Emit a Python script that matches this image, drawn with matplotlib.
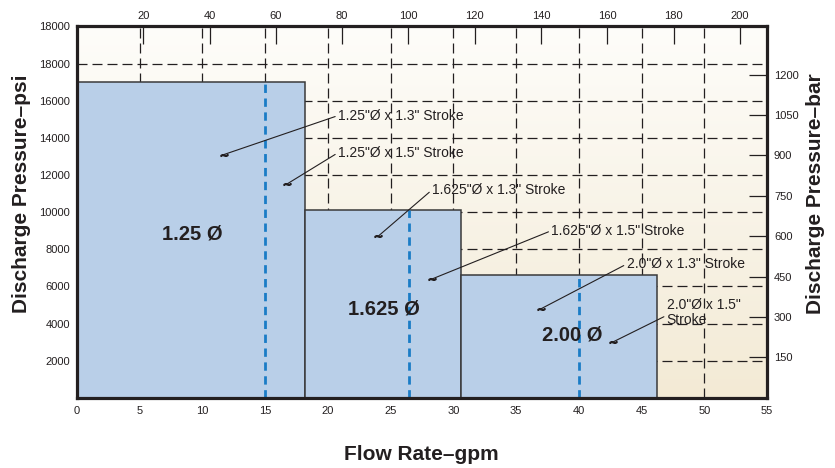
import numpy as np
import matplotlib
matplotlib.use("Agg")
import matplotlib.pyplot as plt

plt.rcParams['font.family'] = ['Liberation Sans', 'DejaVu Sans']

# ----- data -----
bore_labels = ["1.25 Ø", "1.625 Ø", "2.00 Ø"]
bar_left = [0.0, 18.2, 30.6]        # gpm
bar_right = [18.2, 30.6, 46.2]      # gpm
max_psi = [17000, 10100, 6600]
rated_gpm = [15.0, 26.5, 40.0]      # blue dashed line per bore

psi_ticks = [2000, 4000, 6000, 8000, 10000, 12000, 14000, 16000, 18000, 20000]
psi_labels = ["2000", "4000", "6000", "8000", "10000", "12000", "14000", "16000", "18000", "18000"]
gpm_ticks = [0, 5, 10, 15, 20, 25, 30, 35, 40, 45, 50, 55]
lpm_ticks = [20, 40, 60, 80, 100, 120, 140, 160, 180, 200]
bar_ticks = [150, 300, 450, 600, 750, 900, 1050, 1200]

stroke_labels = ['1.25"Ø x 1.3" Stroke', '1.25"Ø x 1.5" Stroke',
                 '1.625"Ø x 1.3" Stroke', '1.625"Ø x 1.5" Stroke',
                 '2.0"Ø x 1.3" Stroke', '2.0"Ø x 1.5"\nStroke']
stroke_points = [(11.7, 13100), (16.7, 11500), (24.0, 8700),
                 (28.3, 6400), (37.0, 4800), (42.7, 3000)]
label_points = [(20.8, 15200), (20.8, 13200), (28.3, 11200),
                (37.8, 9000), (43.8, 7200), (47.0, 4600)]

GPM_TO_LPM = 3.785
PSI_TO_BAR = 14.5038
dark = "#231f20"

fig = plt.figure(figsize=(8.35, 4.68), dpi=100)
ax = fig.add_axes([0.0922, 0.150, 0.8264, 0.7934])
ax.set_xlim(0, 55)
ax.set_ylim(0, 20000)

# background gradient (white at top to cream at bottom)
grad = np.linspace(0, 1, 256).reshape(-1, 1)
top_c = np.array([0.995, 0.992, 0.98])
bot_c = np.array([0.953, 0.918, 0.835])
img = top_c + (bot_c - top_c) * grad[:, :, None] * np.ones((1, 2, 1))
ax.imshow(img, extent=[0, 55, 0, 20000], aspect='auto', origin='upper', zorder=0)

# dashed grid
for g in gpm_ticks[1:-1]:
    ax.axvline(g, color=dark, lw=0.9, ls=(0, (8, 4)), zorder=1)
for p in psi_ticks[:-1]:
    ax.axhline(p, color=dark, lw=0.9, ls=(0, (8, 4)), zorder=1)

# bars
for l, r, h in zip(bar_left, bar_right, max_psi):
    ax.bar(l, h, width=r - l, align='edge', color="#b9cfe8", edgecolor="#3a3a3a",
           linewidth=1.1, zorder=2)

for x, h in zip(rated_gpm, max_psi):
    ax.plot([x, x], [0, h], color="#1a7cc6", lw=2, ls=(0, (3, 2)), zorder=3)

# bore labels
bore_pos = [(9.2, 8800), (24.5, 4780), (39.5, 3360)]
for (x, y), t in zip(bore_pos, bore_labels):
    ax.text(x, y, t, fontsize=14.5, fontweight='bold', color=dark,
            ha='center', va='center', zorder=5)

# stroke annotations
for t, (px, py), (tx, ty) in zip(stroke_labels, stroke_points, label_points):
    ax.annotate(t, xy=(px, py), xytext=(tx, ty), fontsize=10, color=dark,
                ha='left', va='center', linespacing=1.15,
                arrowprops=dict(arrowstyle='-', color=dark, lw=0.8,
                                shrinkA=0, shrinkB=0,
                                relpos=(0, 0.5) if '\n' not in t else (0, 0.4)),
                zorder=5)
    ax.plot(px, py, marker=r'$\sim$', ms=5, color=dark, zorder=5)

# primary axes
ax.set_xticks(gpm_ticks)
ax.set_yticks(psi_ticks)
ax.set_yticklabels(psi_labels)
ax.tick_params(axis='both', length=0, labelsize=8, colors=dark)
ax.tick_params(axis='x', pad=6)
ax.tick_params(axis='y', pad=5)
for s in ax.spines.values():
    s.set_linewidth(2.3)
    s.set_color(dark)
    s.set_zorder(6)

# secondary axes
top = ax.secondary_xaxis('top', functions=(lambda g: g * GPM_TO_LPM, lambda l: l / GPM_TO_LPM))
top.set_xticks(lpm_ticks)
top.tick_params(direction='in', length=13, width=0.9, labelsize=8, colors=dark, pad=4)
top.spines['top'].set_visible(False)

right = ax.secondary_yaxis('right', functions=(lambda p: p / PSI_TO_BAR, lambda b: b * PSI_TO_BAR))
right.set_yticks(bar_ticks)
right.tick_params(direction='in', length=13, width=0.9, labelsize=8, colors=dark, pad=5)
right.spines['right'].set_visible(False)

fig.text(0.026, 0.587, "Discharge Pressure–psi", rotation=90, fontsize=15,
         fontweight='bold', color=dark, ha='center', va='center')
fig.text(0.977, 0.587, "Discharge Pressure–bar", rotation=90, fontsize=15,
         fontweight='bold', color=dark, ha='center', va='center')
fig.text(0.505, 0.028, "Flow Rate–gpm", fontsize=15, fontweight='bold',
         color=dark, ha='center', va='center')

fig.savefig("out.png", dpi=100)
